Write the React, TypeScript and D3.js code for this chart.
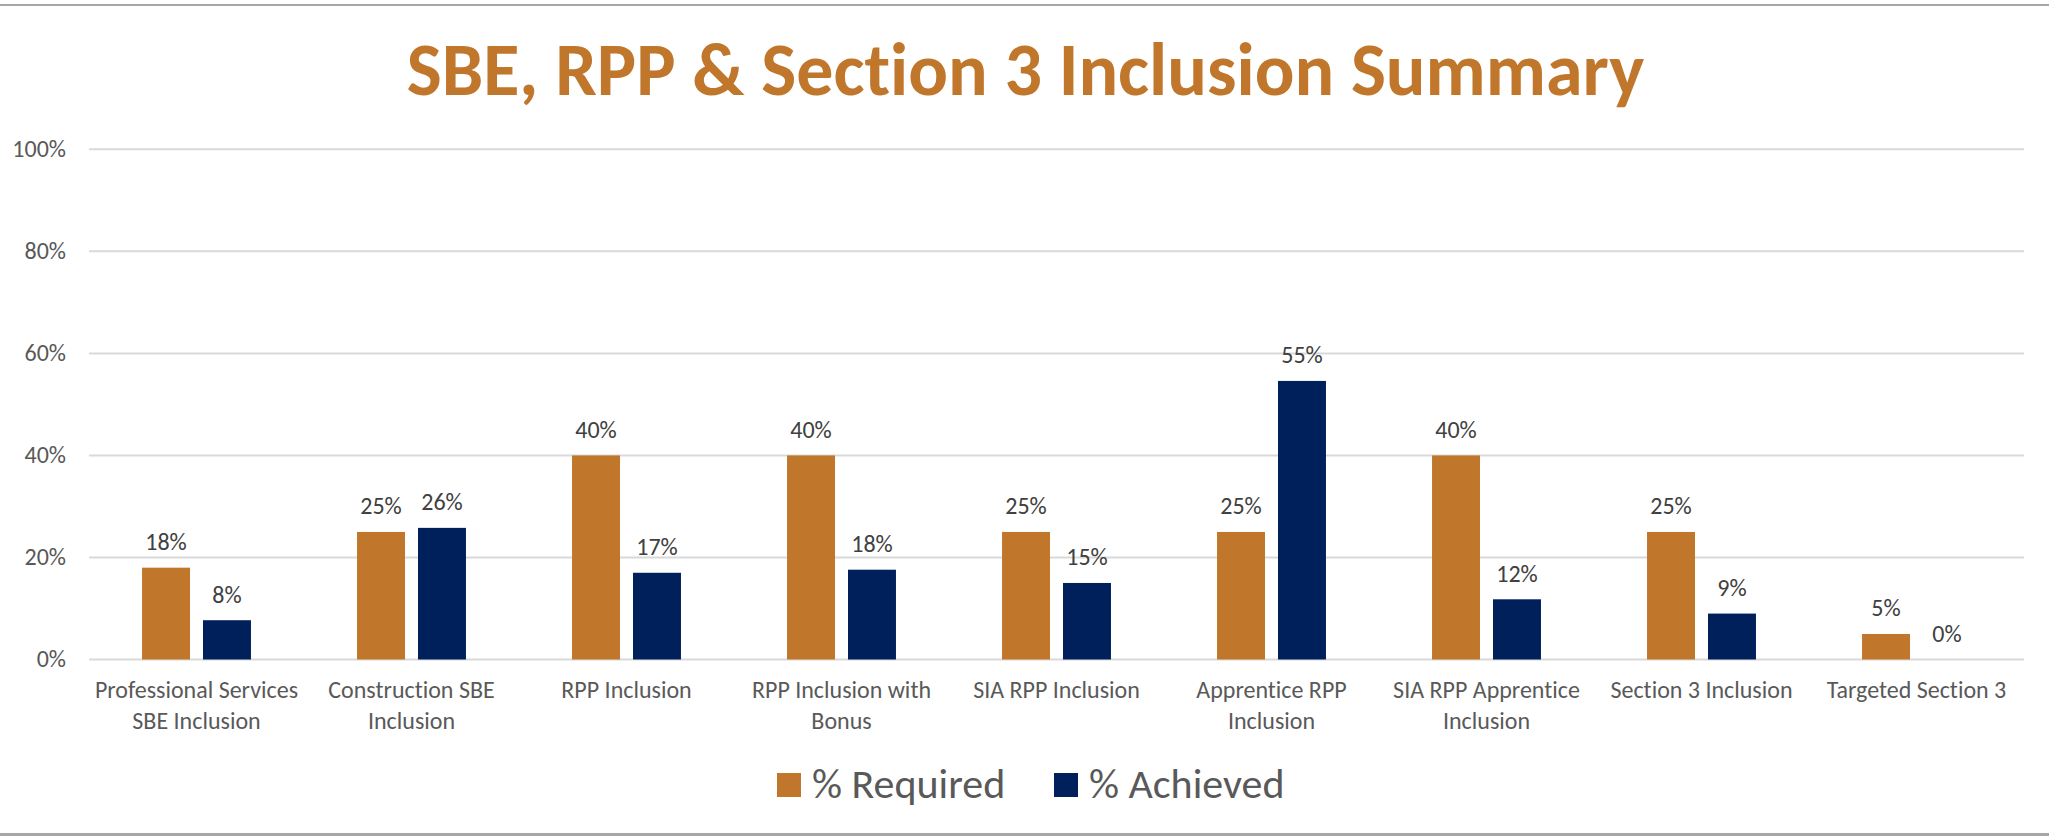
import React, { useRef, useEffect } from 'react';
import * as d3 from 'd3';

const categories = [
  'Professional Services\nSBE Inclusion',
  'Construction SBE\nInclusion',
  'RPP Inclusion',
  'RPP Inclusion with\nBonus',
  'SIA RPP Inclusion',
  'Apprentice RPP\nInclusion',
  'SIA RPP Apprentice\nInclusion',
  'Section 3 Inclusion',
  'Targeted Section 3',
];
const required = [18, 25, 40, 40, 25, 25, 40, 25, 5];
const achieved = [7.7, 25.8, 17.0, 17.6, 15, 54.6, 11.8, 9, 0];
const seriesNames = ['% Required', '% Achieved'];
const seriesColors = ['#C0762B', '#00205B'];
const yTicks = [0, 20, 40, 60, 80, 100];

const WIDTH = 2049;
const HEIGHT = 836;
const FONT = "Calibri, Carlito, 'Open Sans', sans-serif";

function App() {
  const svgRef = useRef<SVGSVGElement>(null);

  useEffect(() => {
    document.body.style.margin = '0';
    const svg = d3.select(svgRef.current);
    svg.selectAll('*').remove();

    const margin = { left: 89, right: 25, top: 149.3, bottom: 176.5 };
    const plotBottom = HEIGHT - margin.bottom;

    svg.attr('width', WIDTH)
      .attr('height', HEIGHT)
      .style('font-variant-ligatures', 'none');

    svg.append('rect')
      .attr('width', WIDTH)
      .attr('height', HEIGHT)
      .attr('fill', '#ffffff');

    // top and bottom frame lines
    svg.append('line')
      .attr('x1', 0).attr('x2', WIDTH).attr('y1', 5).attr('y2', 5)
      .attr('stroke', '#a6a6a6').attr('stroke-width', 2);
    svg.append('line')
      .attr('x1', 0).attr('x2', WIDTH).attr('y1', 834.5).attr('y2', 834.5)
      .attr('stroke', '#a6a6a6').attr('stroke-width', 3);

    // Title
    svg.append('text')
      .attr('x', 1025.5)
      .attr('y', 95)
      .attr('text-anchor', 'middle')
      .attr('font-family', FONT)
      .attr('font-weight', 'bold')
      .attr('font-size', '74px')
      .attr('fill', '#C0762B')
      .text('SBE, RPP & Section 3 Inclusion Summary');

    const x0 = d3.scaleBand<number>()
      .domain(d3.range(categories.length))
      .range([margin.left, WIDTH - margin.right])
      .paddingInner(0)
      .paddingOuter(0);

    const x1 = d3.scaleBand<number>()
      .domain([0, 1])
      .range([0, x0.bandwidth()])
      .paddingInner(13 / 61)
      .paddingOuter(0.87);

    const y = d3.scaleLinear()
      .domain([0, 100])
      .range([plotBottom, margin.top]);

    // Gridlines
    svg.append('g')
      .selectAll('line')
      .data(yTicks)
      .enter()
      .append('line')
      .attr('x1', margin.left)
      .attr('x2', WIDTH - margin.right)
      .attr('y1', d => y(d))
      .attr('y2', d => y(d))
      .attr('stroke', '#d9d9d9')
      .attr('stroke-width', 2);

    // Y tick labels
    svg.append('g')
      .selectAll('text')
      .data(yTicks)
      .enter()
      .append('text')
      .attr('x', 66)
      .attr('y', d => y(d) + 7.5)
      .attr('text-anchor', 'end')
      .attr('font-family', FONT)
      .attr('font-size', '24px')
      .attr('fill', '#595959')
      .text(d => `${d}%`);

    // Bars
    const rows = categories.map((c, i) => ({ i, values: [required[i], achieved[i]] }));

    const groups = svg.append('g')
      .selectAll('g')
      .data(rows)
      .enter()
      .append('g')
      .attr('transform', d => `translate(${x0(d.i)},0)`);

    groups.selectAll('rect')
      .data(d => d.values.map((v, s) => ({ v, s })))
      .enter()
      .append('rect')
      .attr('x', d => x1(d.s)!)
      .attr('width', x1.bandwidth())
      .attr('y', d => y(d.v))
      .attr('height', d => y(0) - y(d.v))
      .attr('fill', d => seriesColors[d.s]);

    groups.selectAll('text')
      .data(d => d.values.map((v, s) => ({ v, s })))
      .enter()
      .append('text')
      .attr('x', d => x1(d.s)! + x1.bandwidth() / 2)
      .attr('y', d => y(d.v) - 17.5)
      .attr('text-anchor', 'middle')
      .attr('font-family', FONT)
      .attr('font-size', '24px')
      .attr('fill', '#404040')
      .text(d => `${Math.round(d.v)}%`);

    // Category labels
    const catLabels = svg.append('g')
      .selectAll('text')
      .data(categories)
      .enter()
      .append('text')
      .attr('text-anchor', 'middle')
      .attr('font-family', FONT)
      .attr('font-size', '24px')
      .attr('fill', '#595959');

    catLabels.each(function (d, i) {
      const t = d3.select(this);
      d.split('\n').forEach((line, k) => {
        t.append('tspan')
          .attr('x', x0(i)! + x0.bandwidth() / 2)
          .attr('y', 698 + k * 31)
          .text(line);
      });
    });

    // Legend
    const legendX = [777, 1054];
    const legend = svg.append('g')
      .selectAll('g')
      .data(seriesNames)
      .enter()
      .append('g')
      .attr('transform', (d, i) => `translate(${legendX[i]},0)`);

    legend.append('rect')
      .attr('x', 0)
      .attr('y', 773)
      .attr('width', 24)
      .attr('height', 24)
      .attr('fill', (d, i) => seriesColors[i]);

    legend.append('text')
      .attr('x', 35)
      .attr('y', 798)
      .attr('font-family', FONT)
      .attr('font-size', '42px')
      .attr('fill', '#595959')
      .text(d => d);
  }, []);

  return (
    <div style={{ width: WIDTH, height: HEIGHT }}>
      <svg ref={svgRef} style={{ display: 'block' }}></svg>
    </div>
  );
}

export default App;
